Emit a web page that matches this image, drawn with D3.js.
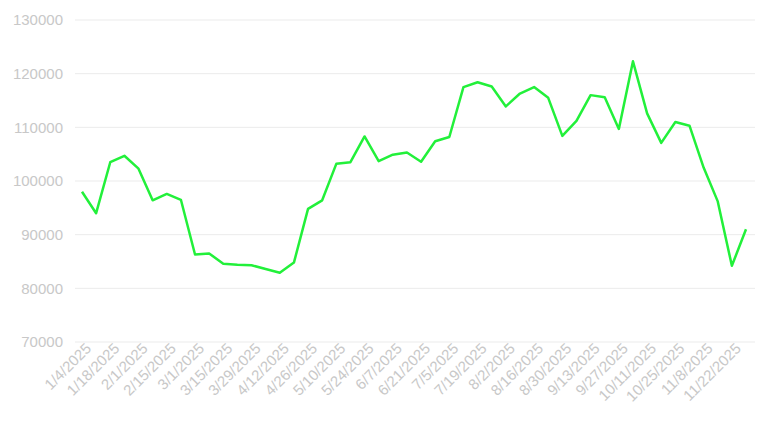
<!DOCTYPE html>
<html>
<head>
<meta charset="utf-8">
<script src="https://cdn.jsdelivr.net/npm/d3@7"></script>
<style>
  body { margin: 0; background: #fff; font-family: Roboto, sans-serif; }
  .grid line { stroke: #ebebeb; }
  .tick text { fill: #c8c8c8; font-size: 15px; }
</style>
</head>
<body>
<svg id="chart" width="768" height="432"></svg>
<script>
// weekly dates, 1/4/2025 .. 11/29/2025
const dates = [];
for (let i = 0; i < 48; i++) {
    const d = new Date(2025, 0, 4 + i * 7);
    dates.push(`${d.getMonth() + 1}/${d.getDate()}/${d.getFullYear()}`);
}

const values = [
    98000, 94000, 103500, 104700, 102300, 96400, 97600, 96500, 86300, 86500,
    84600, 84400, 84300, 83600, 82900, 84800, 94800, 96400, 103200, 103500,
    108300, 103700, 104900, 105300, 103600, 107400, 108200, 117500, 118400, 117600,
    113900, 116300, 117500, 115500, 108400, 111200, 116000, 115600, 109700, 122300,
    112600, 107100, 111000, 110300, 102500, 96200, 84200, 91000
];

const yTicks = [70000, 80000, 90000, 100000, 110000, 120000, 130000];

const svg = d3.select('#chart');

const x = d3.scalePoint()
    .domain(dates)
    .range([82, 746]);

const y = d3.scaleLinear()
    .domain([70000, 130000])
    .range([342, 20]);

// gridlines
svg.append('g')
    .attr('class', 'grid')
    .selectAll('line')
    .data(yTicks)
    .enter()
    .append('line')
    .attr('x1', 75)
    .attr('x2', 755)
    .attr('y1', d => y(d))
    .attr('y2', d => y(d));

// y axis
const yAxis = svg.append('g')
    .attr('transform', 'translate(66,0)')
    .call(d3.axisLeft(y).tickValues(yTicks).tickSize(0).tickFormat(d3.format('d')));
yAxis.select('.domain').remove();

// x axis, every other label
const xAxis = svg.append('g')
    .attr('transform', 'translate(0,342)')
    .call(d3.axisBottom(x)
        .tickValues(dates.filter((d, i) => i % 2 === 0))
        .tickSize(0));
xAxis.select('.domain').remove();
xAxis.selectAll('text')
    .attr('text-anchor', 'end')
    .attr('dx', '0.1em')
    .attr('dy', '0.6em')
    .attr('transform', 'rotate(-45)');

// line
const line = d3.line()
    .x((d, i) => x(dates[i]))
    .y(d => y(d));

svg.append('path')
    .datum(values)
    .attr('fill', 'none')
    .attr('stroke', '#22f03a')
    .attr('stroke-width', 2.5)
    .attr('stroke-linejoin', 'round')
    .attr('d', line);
</script>
</body>
</html>
